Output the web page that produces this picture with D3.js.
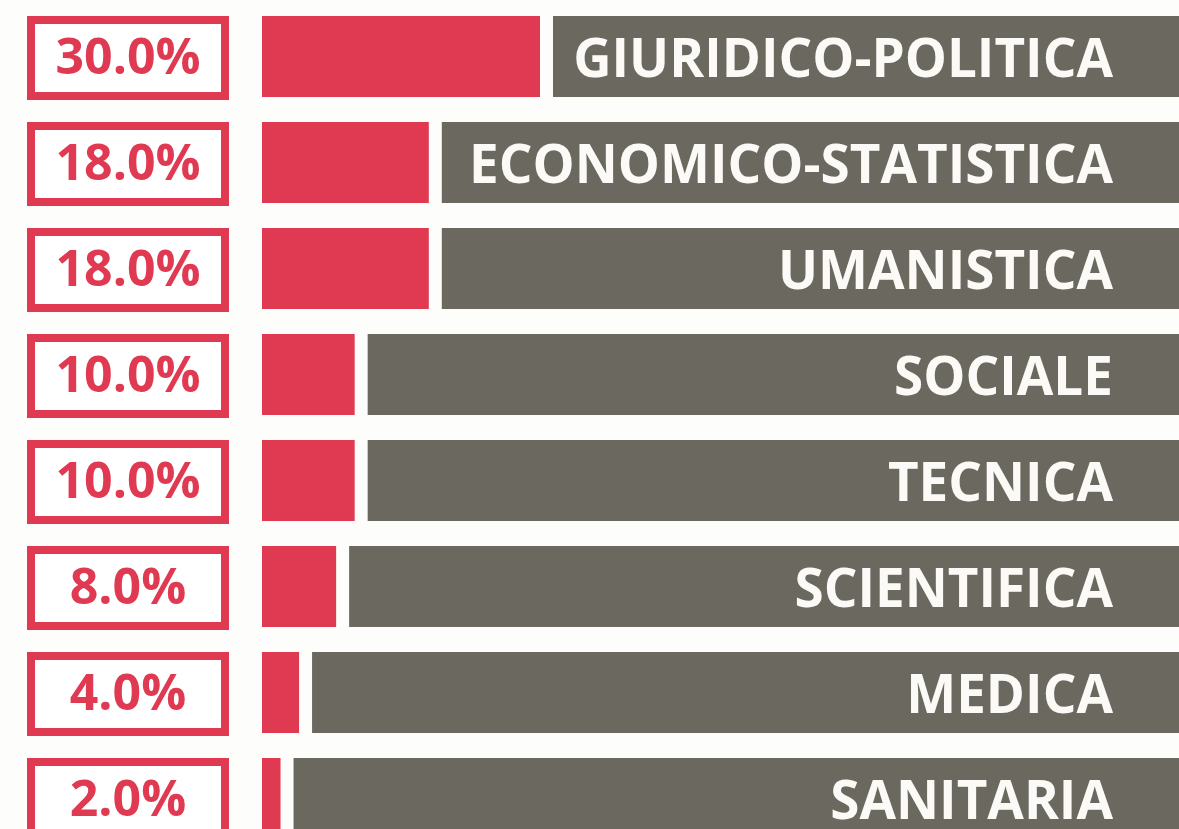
<!DOCTYPE html>
<html lang="it">
<head>
    <meta charset="UTF-8">
    <title>Aree disciplinari</title>
    <script src="https://d3js.org/d3.v7.min.js"></script>
    <style>
        html, body {
            margin: 0;
            padding: 0;
            background: #fdfdfb;
            overflow: hidden;
        }
        svg {
            display: block;
            font-family: "Open Sans", sans-serif;
        }
        .pct {
            fill: #e03a52;
            font-size: 50px;
            font-weight: 700;
            text-anchor: middle;
        }
        .label {
            fill: #fbfaf6;
            font-size: 53px;
            font-weight: 700;
            text-anchor: end;
        }
    </style>
</head>
<body>
    <svg width="1179" height="829"></svg>
    <script>
        // Dati: aree disciplinari e percentuali
        const categories = ["GIURIDICO-POLITICA", "ECONOMICO-STATISTICA", "UMANISTICA", "SOCIALE",
                            "TECNICA", "SCIENTIFICA", "MEDICA", "SANITARIA"];
        const values = [30.0, 18.0, 18.0, 10.0, 10.0, 8.0, 4.0, 2.0];

        const data = categories.map((c, i) => ({ cat: c, value: values[i] }));

        const W = 1179;
        const red = "#e03a52", gray = "#6b685f";

        const svg = d3.select("svg");

        // Scala verticale per le righe
        const y = d3.scaleBand()
            .domain(categories)
            .range([16, 16 + 106 * (8 - 0.2358)])
            .paddingInner(0.2358)
            .paddingOuter(0);

        // Scala orizzontale per la barra rossa
        const x = d3.scaleLinear()
            .domain([0, 30])
            .range([262, 540]);

        const gap = 13;
        const labelRight = 1113;

        const rows = svg.selectAll(".row")
            .data(data)
            .enter()
            .append("g")
            .attr("class", "row")
            .attr("transform", d => `translate(0,${y(d.cat)})`);

        // Riquadro percentuale
        rows.append("rect")
            .attr("x", 31)
            .attr("y", 4)
            .attr("width", 194)
            .attr("height", y.bandwidth() - 5)
            .attr("fill", "#ffffff")
            .attr("stroke", red)
            .attr("stroke-width", 8);

        rows.append("text")
            .attr("class", "pct")
            .attr("x", 128)
            .attr("y", 58)
            .text(d => d.value.toFixed(1) + "%");

        // Barra rossa
        rows.append("rect")
            .attr("x", x(0))
            .attr("y", 0)
            .attr("width", d => x(d.value) - x(0))
            .attr("height", y.bandwidth())
            .attr("fill", red);

        // Barra grigia con etichetta
        rows.append("rect")
            .attr("x", d => x(d.value) + gap)
            .attr("y", 0)
            .attr("width", d => W - x(d.value) - gap)
            .attr("height", y.bandwidth())
            .attr("fill", gray);

        rows.append("text")
            .attr("class", "label")
            .attr("x", labelRight)
            .attr("y", 61)
            .text(d => d.cat);
    </script>
</body>
</html>
